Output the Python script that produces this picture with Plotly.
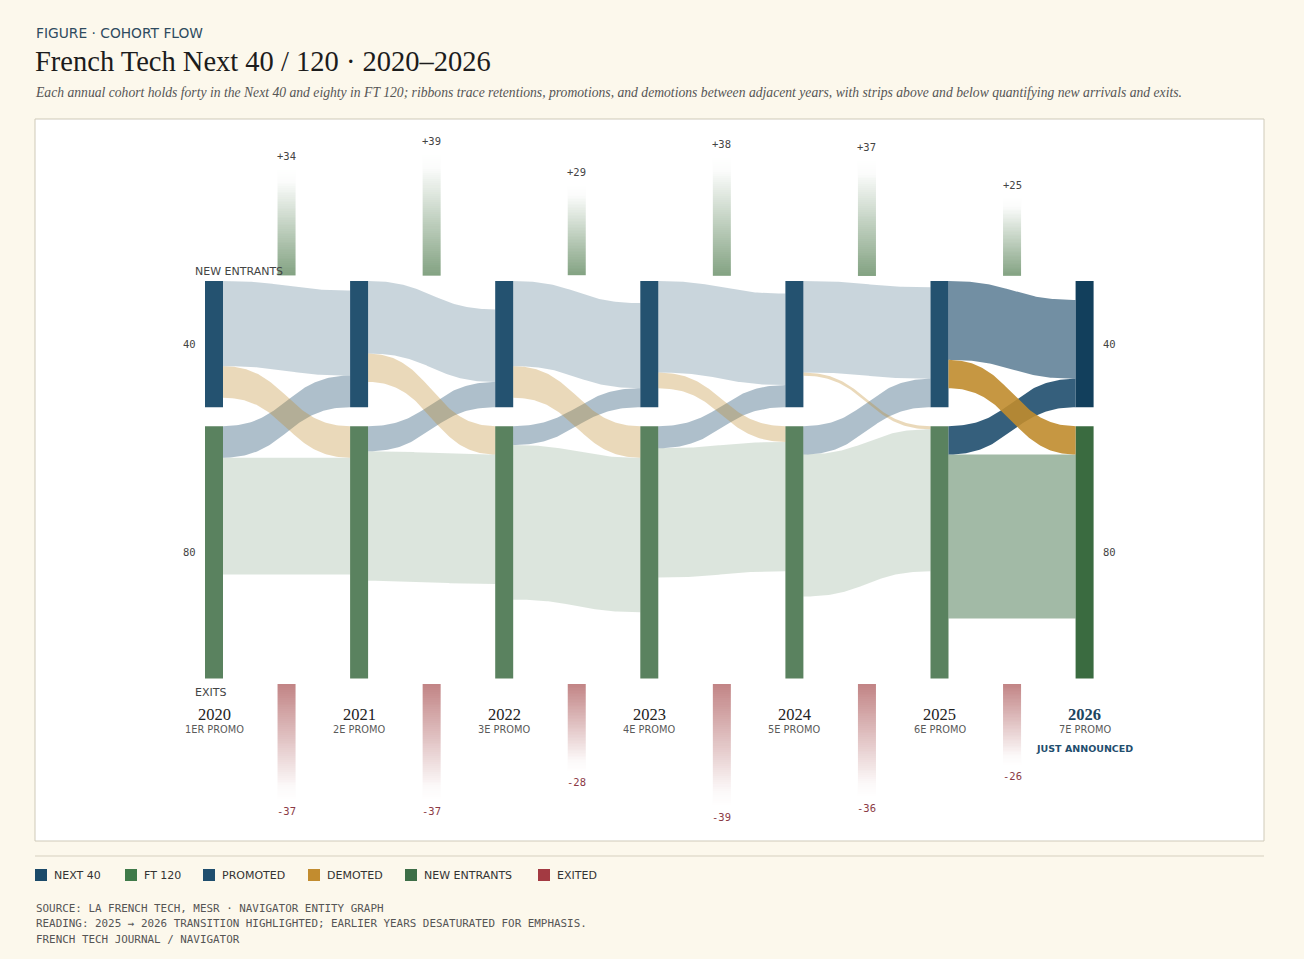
import numpy as np
import plotly.graph_objects as go

# ---------------- data ----------------
years = ["2020", "2021", "2022", "2023", "2024", "2025", "2026"]
promo_labels = ["1ER PROMO", "2E PROMO", "3E PROMO", "4E PROMO", "5E PROMO", "6E PROMO", "7E PROMO"]
next40_size = [40, 40, 40, 40, 40, 40, 40]
ft120_size = [80, 80, 80, 80, 80, 80, 80]

# transitions year[i] -> year[i+1]
retained_next40 = [27, 23, 27, 29, 29, 25]
demoted = [10, 9, 10, 5, 1, 9]
promoted = [10, 8, 6, 7, 9, 9]
retained_ft120 = [37, 41, 49, 41, 45, 52]
new_entrants = [34, 39, 29, 38, 37, 25]
exits = [37, 37, 28, 39, 36, 26]

legend_labels = ["NEXT 40", "FT 120", "PROMOTED", "DEMOTED", "NEW ENTRANTS", "EXITED"]
legend_colors = ["#1b4a69", "#3f7a49", "#1f4e6e", "#c28c2f", "#3d6e47", "#a33a42"]

# ---------------- geometry ----------------
W, H = 1304, 959
ML, MR, MT, MB = 35, 40, 119, 118
PX_X = 145.1          # px per column
PX_Y = 3.155          # px per company
COL0_PX = 214         # px of first column
TOP_PX = 281          # px of top of Next 40 nodes
GAP = 6               # units between the two groups
NODE_W = 18 / PX_X

def ux(px):
    return (px - COL0_PX) / PX_X

def uy(py):
    return (py - TOP_PX) / PX_Y

def paper_x(px):
    return (px - ML) / (W - ML - MR)

def paper_y(py):
    return (H - MB - py) / (H - MT - MB)

X_RANGE = [ux(ML), ux(W - MR)]
Y_RANGE = [uy(H - MB), uy(MT)]

# colours
NODE40 = "#245270"
NODE40_HI = "#123f5c"
NODE120 = "#5a825f"
NODE120_HI = "#3a6b40"
NAVY = (31, 78, 110)
GOLD = (192, 140, 45)
GREEN = (61, 110, 69)

def rgba(c, a):
    return f"rgba({c[0]},{c[1]},{c[2]},{a})"

fig = go.Figure()

# ---------------- ribbons ----------------
def ribbon(x0, x1, s_top, s_bot, t_top, t_bot, color, n=80):
    t = np.linspace(0, 1, n)
    xm = (x0 + x1) / 2
    xs = (1 - t) ** 3 * x0 + 3 * (1 - t) ** 2 * t * xm + 3 * (1 - t) * t ** 2 * xm + t ** 3 * x1
    s = 3 * t ** 2 - 2 * t ** 3
    top = s_top + (t_top - s_top) * s
    bot = s_bot + (t_bot - s_bot) * s
    fig.add_trace(go.Scatter(
        x=np.concatenate([xs, xs[::-1], xs[:1]]),
        y=np.concatenate([top, bot[::-1], top[:1]]),
        mode="lines", fill="toself", fillcolor=color,
        line=dict(width=0, color=color), hoverinfo="skip", showlegend=False))

for i in range(len(retained_next40)):
    hi = i == len(retained_next40) - 1
    x0 = i + NODE_W / 2
    x1 = i + 1 - NODE_W / 2
    ft_top = next40_size[i] + GAP
    ft_top_t = next40_size[i + 1] + GAP
    n40t = next40_size[i + 1]
    R, D, P, R2 = retained_next40[i], demoted[i], promoted[i], retained_ft120[i]
    c_r40 = rgba(NAVY, 0.63 if hi else 0.24)
    c_dem = rgba(GOLD, 0.9 if hi else 0.33)
    c_pro = rgba(NAVY, 0.9 if hi else 0.36)
    c_r120 = rgba(GREEN, 0.48 if hi else 0.18)
    ribbon(x0, x1, ft_top + P, ft_top + P + R2, ft_top_t + D, ft_top_t + D + R2, c_r120)
    ribbon(x0, x1, 0, R, n40t - P - R, n40t - P, c_r40)
    ribbon(x0, x1, ft_top, ft_top + P, n40t - P, n40t, c_pro)
    ribbon(x0, x1, R, R + D, ft_top_t, ft_top_t + D, c_dem)

# ---------------- nodes ----------------
xs_nodes = list(range(len(years)))
fig.add_trace(go.Bar(
    x=xs_nodes, y=next40_size, base=[0] * len(years), width=NODE_W,
    marker=dict(color=[NODE40] * (len(years) - 1) + [NODE40_HI], line=dict(width=0)),
    hoverinfo="skip", showlegend=False))
fig.add_trace(go.Bar(
    x=xs_nodes, y=ft120_size, base=[n + GAP for n in next40_size], width=NODE_W,
    marker=dict(color=[NODE120] * (len(years) - 1) + [NODE120_HI], line=dict(width=0)),
    hoverinfo="skip", showlegend=False))

# ---------------- strips (gradients) ----------------
NSTEP = 60
ENT_BASE = uy(275.7)
EXIT_BASE = uy(684)
annotations = []
for i in range(len(new_entrants)):
    cx = i + 0.5
    xe = [cx - NODE_W / 2, cx + NODE_W / 2]
    top = ENT_BASE - new_entrants[i]
    ye = np.linspace(top, ENT_BASE, NSTEP + 1)
    z = [[k / (NSTEP - 1)] for k in range(NSTEP)]
    fig.add_trace(go.Heatmap(
        x=xe, y=ye, z=z, zmin=0, zmax=1,
        colorscale=[[0, "#ffffff"], [0.12, "#fbfcfb"], [1, "#84a383"]],
        showscale=False, hoverinfo="skip"))
    annotations.append(dict(
        x=cx, y=top, xref="x", yref="y", text=f"+{new_entrants[i]}",
        showarrow=False, yanchor="bottom", yshift=4,
        font=dict(family="DejaVu Sans Mono", size=10.5, color="#444444")))

    bot = EXIT_BASE + exits[i]
    ye2 = np.linspace(EXIT_BASE, bot, NSTEP + 1)
    z2 = [[1 - k / (NSTEP - 1)] for k in range(NSTEP)]
    fig.add_trace(go.Heatmap(
        x=xe, y=ye2, z=z2, zmin=0, zmax=1,
        colorscale=[[0, "#ffffff"], [0.12, "#fcf9f9"], [1, "#c28586"]],
        showscale=False, hoverinfo="skip"))
    annotations.append(dict(
        x=cx, y=bot, xref="x", yref="y", text=f"-{exits[i]}",
        showarrow=False, yanchor="top", yshift=-2,
        font=dict(family="DejaVu Sans Mono", size=10.5, color="#8b3a45")))

# ---------------- in-plot labels ----------------
for side_x, anchor in ((ux(198), "right"), (len(years) - 1 + (1101 - 1084.7) / PX_X, "left")):
    annotations.append(dict(x=side_x, y=next40_size[0] / 2, xref="x", yref="y", text=str(next40_size[0]),
                            showarrow=False, xanchor=anchor,
                            font=dict(family="DejaVu Sans Mono", size=10.5, color="#444444")))
    annotations.append(dict(x=side_x, y=next40_size[0] + GAP + ft120_size[0] / 2, xref="x", yref="y",
                            text=str(ft120_size[0]), showarrow=False, xanchor=anchor,
                            font=dict(family="DejaVu Sans Mono", size=10.5, color="#444444")))

annotations.append(dict(x=ux(193), y=uy(271), xref="x", yref="y", text="NEW ENTRANTS",
                        showarrow=False, xanchor="left",
                        font=dict(family="DejaVu Sans", size=11, color="#444444")))
annotations.append(dict(x=ux(193), y=uy(692), xref="x", yref="y", text="EXITS",
                        showarrow=False, xanchor="left",
                        font=dict(family="DejaVu Sans", size=11, color="#444444")))

for i, (yr, pl) in enumerate(zip(years, promo_labels)):
    last = i == len(years) - 1
    annotations.append(dict(x=i, y=uy(714), xref="x", yref="y", text=yr, showarrow=False,
                            font=dict(family="Liberation Serif", size=16.5,
                                      color="#1d4560" if last else "#222222",
                                      weight="bold" if last else "normal")))
    annotations.append(dict(x=i, y=uy(729), xref="x", yref="y", text=pl, showarrow=False,
                            font=dict(family="DejaVu Sans", size=9.8, color="#5a5a5a")))
annotations.append(dict(x=len(years) - 1, y=uy(748), xref="x", yref="y", text="JUST ANNOUNCED",
                        showarrow=False,
                        font=dict(family="DejaVu Sans", size=9.5, color="#1f4e6e", weight="bold")))

# ---------------- header ----------------
annotations.append(dict(x=paper_x(34), y=paper_y(33), xref="paper", yref="paper",
                        text="FIGURE · COHORT FLOW", showarrow=False, xanchor="left", yanchor="middle",
                        font=dict(family="DejaVu Sans", size=13.8, color="#2e4b5f")))
annotations.append(dict(x=paper_x(33), y=paper_y(62), xref="paper", yref="paper",
                        text="French Tech Next 40 / 120 · 2020–2026", showarrow=False,
                        xanchor="left", yanchor="middle",
                        font=dict(family="Liberation Serif", size=28.5, color="#1c1c1c")))
annotations.append(dict(x=paper_x(33), y=paper_y(92), xref="paper", yref="paper",
                        text=("<i>Each annual cohort holds forty in the Next 40 and eighty in FT 120; "
                              "ribbons trace retentions, promotions, and demotions between adjacent years, "
                              "with strips above and below quantifying new arrivals and exits.</i>"),
                        showarrow=False, xanchor="left", yanchor="middle",
                        font=dict(family="Liberation Serif", size=13.65, color="#555555")))

# ---------------- legend (manual) ----------------
shapes = []
sw_px = [35, 125, 203, 308, 405, 538]
for lab, col, sx in zip(legend_labels, legend_colors, sw_px):
    shapes.append(dict(type="rect", xref="paper", yref="paper",
                       x0=paper_x(sx), x1=paper_x(sx + 12), y0=paper_y(881), y1=paper_y(869),
                       fillcolor=col, line=dict(width=0)))
    annotations.append(dict(x=paper_x(sx + 17), y=paper_y(875), xref="paper", yref="paper",
                            text=lab, showarrow=False, xanchor="left", yanchor="middle",
                            font=dict(family="DejaVu Sans", size=11, color="#333333")))

footer = ["SOURCE: LA FRENCH TECH, MESR · NAVIGATOR ENTITY GRAPH",
          "READING: 2025 → 2026 TRANSITION HIGHLIGHTED; EARLIER YEARS DESATURATED FOR EMPHASIS.",
          "FRENCH TECH JOURNAL / NAVIGATOR"]
for line, py in zip(footer, [908, 923, 939]):
    annotations.append(dict(x=paper_x(34), y=paper_y(py), xref="paper", yref="paper",
                            text=line, showarrow=False, xanchor="left", yanchor="middle",
                            font=dict(family="DejaVu Sans Mono", size=10.9, color="#555555")))

# box and rule
shapes.append(dict(type="rect", xref="paper", yref="paper", x0=0, x1=1, y0=0, y1=1,
                   line=dict(color="#cfcab9", width=1), fillcolor="rgba(0,0,0,0)", layer="above"))
shapes.append(dict(type="line", xref="paper", yref="paper", x0=0, x1=1,
                   y0=paper_y(856), y1=paper_y(856), line=dict(color="#d6d0bf", width=1)))

fig.update_layout(
    width=W, height=H,
    margin=dict(l=ML, r=MR, t=MT, b=MB, pad=0),
    paper_bgcolor="#fcf8ec", plot_bgcolor="#ffffff",
    barmode="overlay", hovermode=False, showlegend=False,
    xaxis=dict(range=X_RANGE, visible=False, fixedrange=True),
    yaxis=dict(range=Y_RANGE, visible=False, fixedrange=True),
    annotations=annotations, shapes=shapes,
)

fig.write_html("out.html")
